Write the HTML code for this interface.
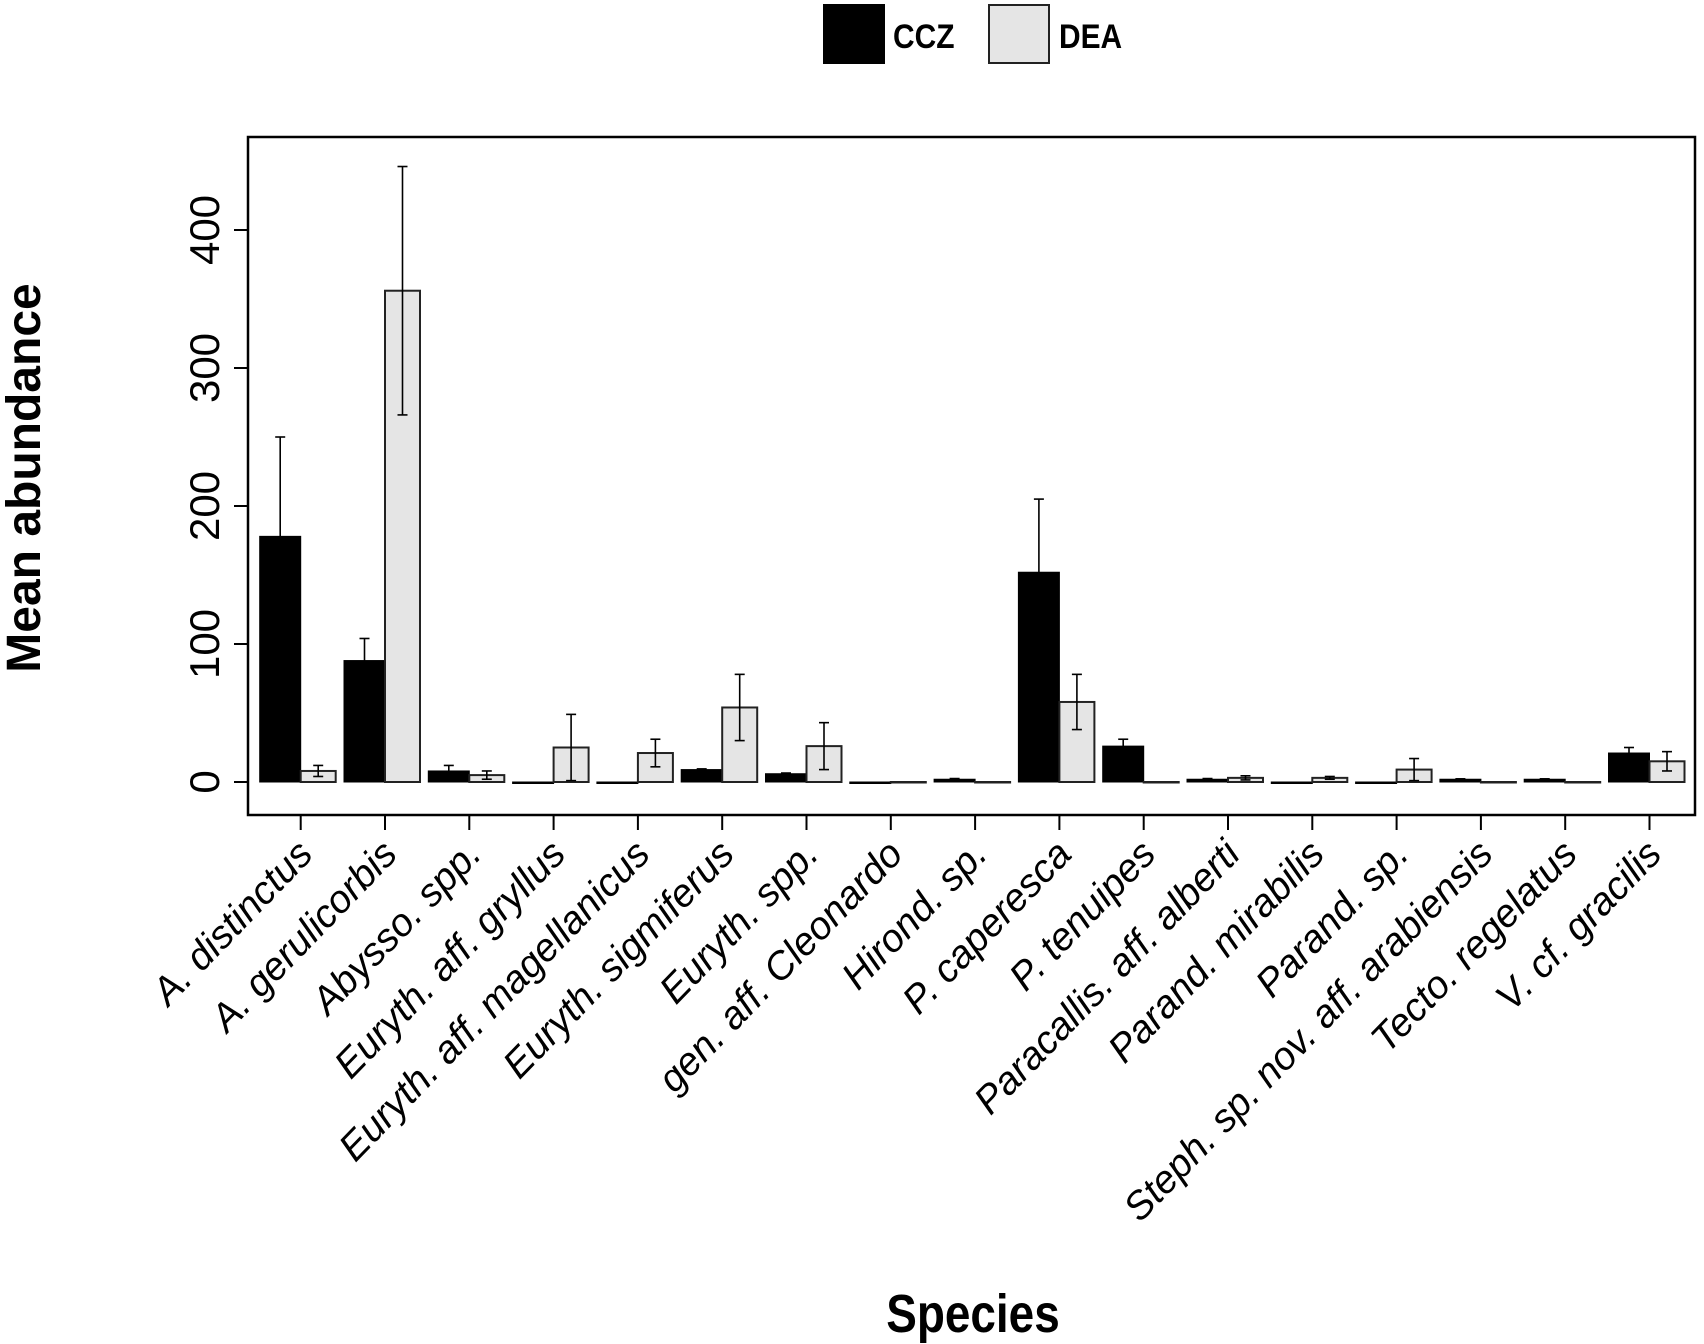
<!DOCTYPE html>
<html><head><meta charset="utf-8"><style>
body{margin:0;background:#fff}
svg{display:block}
text{font-family:"Liberation Sans",sans-serif}
</style></head><body>
<svg id="c" width="1704" height="1344">
<rect x="0" y="0" width="1704" height="1344" fill="#fff"/>
<g>
<rect x="823" y="4" width="62" height="60" fill="#000"/>
<text x="893" y="48" font-size="34" font-weight="bold" transform="translate(893 0) scale(0.88 1) translate(-893 0)">CCZ</text>
<rect x="989" y="5" width="60" height="58" fill="#e5e5e5" stroke="#222" stroke-width="2"/>
<text x="1059" y="48" font-size="34" font-weight="bold" transform="translate(1059 0) scale(0.88 1) translate(-1059 0)">DEA</text>
</g>
<rect x="248" y="137" width="1447" height="678" fill="none" stroke="#000" stroke-width="2.5"/>
<g id="bars"></g>
<g id="axes"></g>
<text x="0" y="0" font-size="48" font-weight="bold" text-anchor="middle" transform="translate(40 478) rotate(-90)">Mean abundance</text>
<text x="973" y="1332" font-size="54" font-weight="bold" text-anchor="middle" transform="translate(973 0) scale(0.85 1) translate(-973 0)">Species</text>
</svg>
<script>
const categories=["A. distinctus","A. gerulicorbis","Abysso. spp.","Euryth. aff. gryllus","Euryth. aff. magellanicus","Euryth. sigmiferus","Euryth. spp.","gen. aff. Cleonardo","Hirond. sp.","P. caperesca","P. tenuipes","Paracallis. aff. alberti","Parand. mirabilis","Parand. sp.","Steph. sp. nov. aff. arabiensis","Tecto. regelatus","V. cf. gracilis"];
const cczValues=[178,88,8,0,0,9,6,0,2,152,26,2,0,0,2,2,21];
const cczErrors=[72,16,4,0,0,0.5,0.5,0,0.5,53,5,0.5,0,0,0.3,0.3,4];
const deaValues=[8,356,5,25,21,54,26,0,0,58,0,3,3,9,0,0,15];
const deaErrors=[4,90,3,24,10,24,17,0,0,20,0,1.5,1,8,0,0,7];
const yTicks=[0,100,200,300,400];
const NS="http://www.w3.org/2000/svg";
const y=v=>782-v*1.38;
const x=i=>300.7+i*84.3;
const BW=41;
const bars=document.getElementById('bars'),axes=document.getElementById('axes');
function mk(tag,attrs,parent){const e=document.createElementNS(NS,tag);for(const k in attrs)e.setAttribute(k,attrs[k]);parent.appendChild(e);return e;}
function errbar(cx,v,e,col,parent){
  if(e<=0)return;
  const g=mk('g',{stroke:col,'stroke-width':1.6},parent);
  
  
  mk('line',{x1:cx,x2:cx,y1:y(v+e),y2:y(Math.max(v-e,0))},g);
  mk('line',{x1:cx-5,x2:cx+5,y1:y(v+e),y2:y(v+e)},g);
  mk('line',{x1:cx-5,x2:cx+5,y1:y(Math.max(v-e,0)),y2:y(Math.max(v-e,0))},g);
}
categories.forEach((c,i)=>{
  const cx=x(i);
  const r1=mk('rect',{x:cx-BW,y:y(cczValues[i]),width:BW,height:Math.max(y(0)-y(cczValues[i]),1.5),fill:'#000',stroke:'#000','stroke-width':1},bars);
  
  
  errbar(cx-BW/2,cczValues[i],cczErrors[i],'#000',bars);
  const r2=mk('rect',{x:cx,y:y(deaValues[i]),width:BW-6,height:Math.max(y(0)-y(deaValues[i]),0.5),fill:'#e5e5e5',stroke:'#222','stroke-width':2},bars);
  
  
  errbar(cx+(BW-6)/2,deaValues[i],deaErrors[i],'#000',bars);
  const t=mk('line',{x1:cx,x2:cx,y1:815,y2:830,stroke:'#000','stroke-width':2},axes);
  
  
  const lb=mk('text',{'font-size':39,'font-style':'italic','text-anchor':'end',transform:`translate(${cx+14} ${856}) rotate(-46)`},axes);
  lb.textContent=c;
  
  
});
yTicks.forEach(v=>{
  const t=mk('line',{x1:234,x2:248,y1:y(v),y2:y(v),stroke:'#000','stroke-width':2},axes);
  
  
  const lb=mk('text',{'font-size':42,'text-anchor':'middle',transform:`translate(219 ${y(v)}) rotate(-90)`},axes);
  lb.textContent=v;
  
  
});
</script>
</body></html>
